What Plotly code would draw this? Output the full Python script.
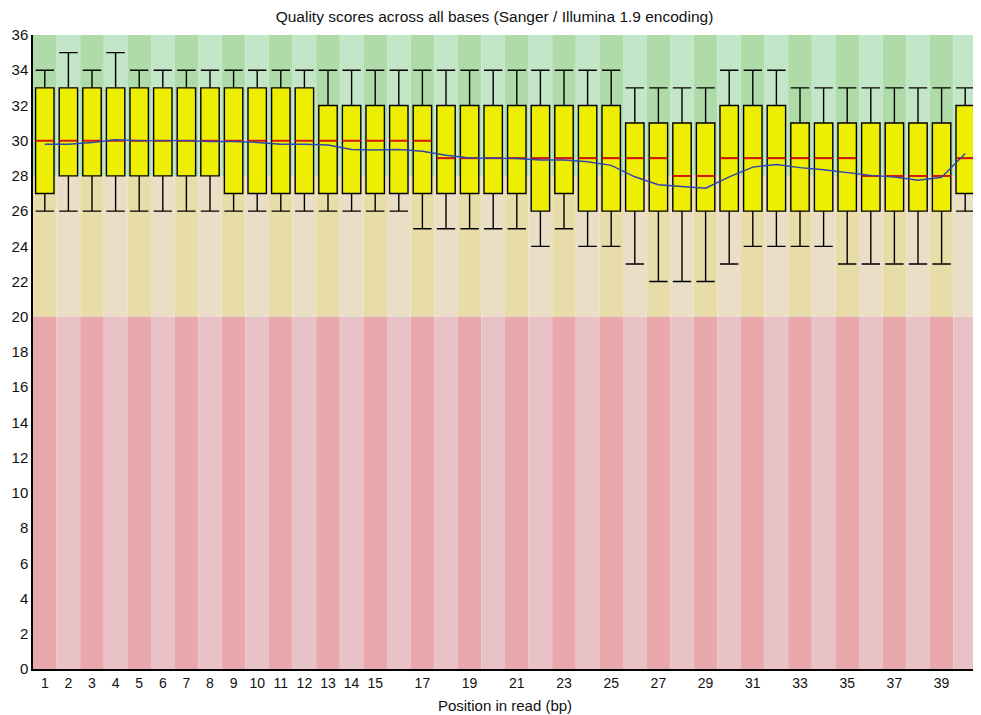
import plotly.graph_objects as go

positions = list(range(1, 41))
upper_whisker = [34, 35, 34, 35, 34, 34, 34, 34, 34, 34, 34, 34, 34, 34, 34, 34, 34, 34, 34, 34,
                 34, 34, 34, 34, 34, 33, 33, 33, 33, 34, 34, 34, 33, 33, 33, 33, 33, 33, 33, 33]
q3 = [33] * 12 + [32] * 13 + [31] * 4 + [32] * 3 + [31] * 7 + [32]
median = [30] * 17 + [29] * 10 + [28] * 2 + [29] * 6 + [28] * 4 + [29]
q1 = [27] + [28] * 7 + [27] * 13 + [26, 27] + [26] * 16 + [27]
lower_whisker = [26] * 16 + [25] * 5 + [24, 25, 24, 24, 23, 22, 22, 22, 23, 24, 24, 24, 24,
                                         23, 23, 23, 23, 23, 26]
mean = [29.8, 29.8, 29.9, 30.05, 30.0, 30.0, 30.0, 29.95, 29.95, 29.9, 29.8, 29.8, 29.75, 29.5,
        29.47, 29.5, 29.4, 29.17, 29.02, 29.0, 28.99, 28.9, 28.9, 28.8, 28.6, 27.95, 27.5, 27.4,
        27.3, 27.95, 28.5, 28.65, 28.47, 28.35, 28.18, 28.03, 27.94, 27.75, 27.92, 29.27]

xtick_vals = list(range(1, 16)) + list(range(17, 40, 2))
title_text = "Quality scores across all bases (Sanger / Illumina 1.9 encoding)"
xaxis_title = "Position in read (bp)"

zones = [(28, 36, "#AEDBA8", "#C4E6C8"),
         (20, 28, "#E8DCA8", "#EADFC6"),
         (0, 20, "#E8A8AC", "#E8C2C6")]

BOX_W = 0.78

fig = go.Figure()

fig.add_trace(go.Box(
    x=positions, q1=q1, median=median, q3=q3,
    lowerfence=lower_whisker, upperfence=upper_whisker,
    width=BOX_W,
    fillcolor="#EEEE00", line=dict(color="#000000", width=1.4),
    whiskerwidth=1, boxpoints=False, showlegend=False, hoverinfo="skip",
))

mx, my = [], []
for p, m in zip(positions, median):
    mx += [p - BOX_W / 2, p + BOX_W / 2, None]
    my += [m, m, None]
fig.add_trace(go.Scatter(x=mx, y=my, mode="lines", line=dict(color="#E01010", width=1.8),
                         showlegend=False, hoverinfo="skip"))

fig.add_trace(go.Scatter(x=positions, y=mean, mode="lines", line=dict(color="#2F45B0", width=1.4),
                         showlegend=False))

shapes = []
for p in positions:
    for lo, hi, dark, light in zones:
        shapes.append(dict(type="rect", xref="x", yref="y", x0=p - 0.5, x1=p + 0.5, y0=lo, y1=hi,
                           fillcolor=dark if p % 2 == 1 else light, line=dict(width=0),
                           layer="below"))

fig.update_layout(
    width=973, height=707,
    margin=dict(l=25, r=4, t=27, b=46),
    paper_bgcolor="white", plot_bgcolor="white",
    shapes=shapes,
    font=dict(family="Liberation Sans, Arial, sans-serif", color="#111111"),
    title=dict(text=title_text, x=0.5, xanchor="center", y=0.996, yanchor="top",
               font=dict(size=15.5)),
    xaxis=dict(range=[0.5, 40.5], tickmode="array", tickvals=xtick_vals,
               ticktext=[str(v) for v in xtick_vals], showgrid=False, zeroline=False,
               showline=True, linecolor="#000000", linewidth=1.5, ticks="",
               tickfont=dict(size=14), title=dict(text=xaxis_title, font=dict(size=15), standoff=11)),
    yaxis=dict(range=[0, 36], dtick=2, showgrid=False, zeroline=False, showline=True,
               linecolor="#000000", linewidth=1.5, ticks="", tickfont=dict(size=15)),
)

fig.write_html("out.html")
